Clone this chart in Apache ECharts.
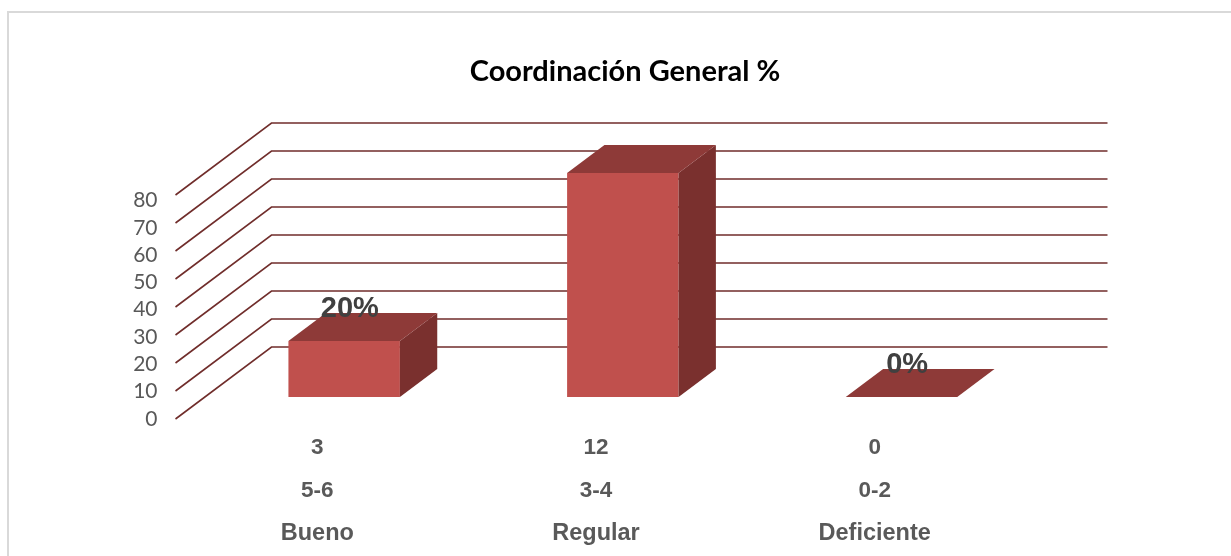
<!DOCTYPE html>
<html>
<head>
<meta charset="utf-8">
<title>Coordinación General %</title>
<script src="https://cdn.jsdelivr.net/npm/echarts@6/dist/echarts.min.js"></script>
<style>
  html, body { margin: 0; padding: 0; background: #fff; }
  #chart { width: 1231px; height: 556px; }
</style>
</head>
<body>
<div id="chart"></div>
<script>
// ── Data ──
const ratings = ['Bueno', 'Regular', 'Deficiente'];
const ranges  = ['5-6', '3-4', '0-2'];
const counts  = ['3', '12', '0'];
const percent = [20, 80, 0];
const barLabels = ['20%', '', '0%'];   // the reference shows no label on the tall bar
const yTicks  = [0, 10, 20, 30, 40, 50, 60, 70, 80];

// ── Fake 3D: how far the back wall sits from the front plane ──
const DEPTH_X = 96, DEPTH_Y = -72;
const BAR_FRONT = 22 / 72, BAR_BACK = 50 / 72;  // bar position inside the depth
const BAR_WIDTH = 0.4;                          // share of the category band

const LINE_COLOR = '#702D2B';
const FACE_COLOR = '#C0504D', TOP_COLOR = '#8E3A38', SIDE_COLOR = '#7A302E';

const shift = ([x, y], d) => [x + DEPTH_X * d, y + DEPTH_Y * d];

function renderWallLine(params, api) {
  const left = params.coordSys.x;
  const right = left + params.coordSys.width;
  const y = api.coord([0, api.value(0)])[1];
  return {
    type: 'polyline',
    shape: { points: [[left, y], shift([left, y], 1), shift([right, y], 1)] },
    style: { stroke: LINE_COLOR, lineWidth: 1.6, fill: null },
    silent: true,
  };
}

function renderBar(params, api) {
  const cat = api.value(0);
  const val = api.value(1);
  const half = api.size([1, 0])[0] * BAR_WIDTH / 2;
  const base = api.coord([cat, 0]);
  const top  = api.coord([cat, val]);

  const fl = shift([base[0] - half, base[1]], BAR_FRONT);
  const fr = shift([base[0] + half, base[1]], BAR_FRONT);
  const tl = shift([base[0] - half, top[1]], BAR_FRONT);
  const tr = shift([base[0] + half, top[1]], BAR_FRONT);
  const br = shift([base[0] + half, base[1]], BAR_BACK);
  const tbr = shift([base[0] + half, top[1]], BAR_BACK);
  const tbl = shift([base[0] - half, top[1]], BAR_BACK);

  const poly = (points, fill) => ({ type: 'polygon', shape: { points }, style: { fill } });
  const children = [];
  if (val > 0) {
    children.push(poly([fl, fr, tr, tl], FACE_COLOR));
    children.push(poly([fr, br, tbr, tr], SIDE_COLOR));
  }
  children.push(poly([tl, tr, tbr, tbl], TOP_COLOR));
  children.push({
    type: 'text',
    z2: 10,
    style: {
      x: base[0] + 35,
      y: top[1] - 54,
      text: barLabels[params.dataIndex],
      fill: '#404040',
      font: 'bold 29px "Liberation Sans"',
      align: 'center',
      verticalAlign: 'middle',
    },
  });
  return { type: 'group', children };
}

const chart = echarts.init(document.getElementById('chart'), null, { renderer: 'canvas' });

chart.setOption({
  animation: false,
  backgroundColor: '#fff',
  textStyle: { fontFamily: '"Liberation Sans"' },
  graphic: [
    { type: 'rect', silent: true, z: -1,
      shape: { x: 8, y: 12, width: 1400, height: 700 },
      style: { fill: 'none', stroke: '#D9D9D9', lineWidth: 2 } },
  ],
  title: {
    text: 'Coordinación General %',
    left: 620, top: 52, textAlign: 'center',
    textStyle: { fontFamily: 'Lato', fontWeight: 'bold', fontSize: 29, color: '#000' },
  },
  grid: { left: 175.5, right: 219.5, top: 195, height: 224, containLabel: false },
  xAxis: {
    type: 'category',
    data: ratings,
    axisLine: { show: false },
    axisTick: { show: false },
    axisLabel: {
      margin: 7,
      interval: 0,
      padding: [0, 0, 0, 5],
      formatter: (v, i) => `{n|${counts[i]}}\n{n|${ranges[i]}}\n{w|${v}}`,
      rich: {
        n: { fontFamily: '"Liberation Sans"', fontWeight: 'bold', fontSize: 22.5, lineHeight: 43, color: '#595959' },
        w: { fontFamily: '"Liberation Sans"', fontWeight: 'bold', fontSize: 23.5, lineHeight: 43, color: '#595959' },
      },
    },
  },
  yAxis: [
    // drives the bars and wall lines
    { type: 'value', min: 0, max: 80, interval: 10,
      axisLine: { show: false }, axisTick: { show: false }, splitLine: { show: false },
      axisLabel: { show: false } },
    // tick labels only: the reference packs them slightly tighter than the walls
    { type: 'value', position: 'left', min: 0, max: 82, interval: 10,
      axisLine: { show: false }, axisTick: { show: false }, splitLine: { show: false },
      axisLabel: { margin: 18, fontSize: 21, color: '#595959', fontFamily: 'Lato', showMaxLabel: false } },
  ],
  series: [
    { name: 'walls', type: 'custom', renderItem: renderWallLine, clip: false, z: 1,
      data: yTicks.map(v => [v]), encode: { y: 0 }, silent: true },
    { name: 'Coordinación General %', type: 'custom', renderItem: renderBar, clip: false, z: 2,
      data: percent.map((v, i) => [i, v]), encode: { x: 0, y: 1 } },
  ],
});
</script>
</body>
</html>
